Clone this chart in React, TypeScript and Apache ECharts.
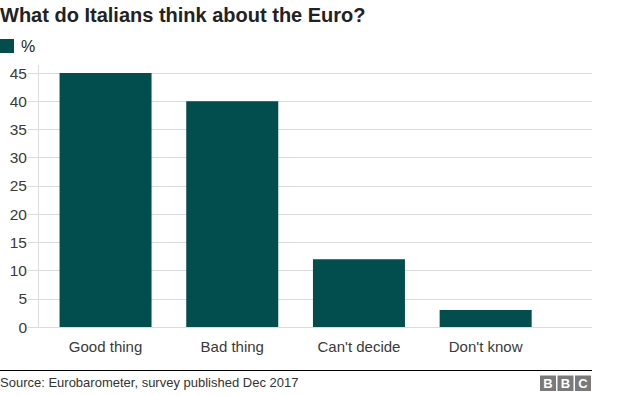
import React, { useEffect, useRef } from "react";
import * as echarts from "echarts";

const categories = ["Good thing", "Bad thing", "Can't decide", "Don't know"];
const values = [45, 40, 12, 3];
const yTicks = [0, 5, 10, 15, 20, 25, 30, 35, 40, 45];
const titleText = "What do Italians think about the Euro?";
const legendText = "%";
const sourceText = "Source: Eurobarometer, survey published Dec 2017";

const FONT = "Arial, 'Liberation Sans', Helvetica, sans-serif";
const BAR = "#024d4e";

export default function App() {
  const ref = useRef<HTMLDivElement>(null);
  useEffect(() => {
    if (!ref.current) return;
    const chart = echarts.init(ref.current, null, { renderer: "svg" });
    const yMax = yTicks[yTicks.length - 1];
    const yInt = yTicks[1] - yTicks[0];
    chart.setOption({
      animation: false,
      textStyle: { fontFamily: FONT },
      grid: [
        { left: 42.2, right: 75, top: 73, bottom: 68 },
        { left: 28, right: 32, top: 73, bottom: 68 },
      ],
      xAxis: [
        {
          type: "category",
          gridIndex: 0,
          data: categories,
          axisLine: { show: false },
          axisTick: { show: false },
          axisLabel: { color: "#3a3a3a", fontSize: 15, margin: 12, fontFamily: FONT },
        },
        {
          type: "category",
          gridIndex: 1,
          data: [""],
          show: false,
        },
      ],
      yAxis: [
        { type: "value", gridIndex: 0, min: 0, max: yMax, interval: yInt, show: false },
        {
          type: "value",
          gridIndex: 1,
          min: 0,
          max: yMax,
          interval: yInt,
          axisLine: { show: false },
          axisTick: { show: false },
          splitLine: { lineStyle: { color: "#dcdcdc", width: 1 } },
          axisLabel: { color: "#3a3a3a", fontSize: 15.5, margin: 1, fontFamily: FONT },
        },
      ],
      series: [
        {
          type: "bar",
          xAxisIndex: 0,
          yAxisIndex: 0,
          data: values,
          barWidth: 92,
          itemStyle: { color: BAR },
        },
      ],
      graphic: [
        {
          type: "text",
          left: 0,
          top: 5,
          style: { text: titleText, font: `bold 20px ${FONT}`, fill: "#222222" },
        },
        { type: "rect", shape: { x: 0, y: 39, width: 14, height: 14 }, style: { fill: BAR } },
        {
          type: "text",
          left: 21,
          top: 38,
          style: { text: legendText, font: `16px ${FONT}`, fill: "#222222" },
        },
        {
          type: "line",
          shape: { x1: 38.5, y1: 65, x2: 38.5, y2: 327 },
          style: { stroke: "#dcdcdc", lineWidth: 1 },
        },
        {
          type: "line",
          shape: { x1: 28, y1: 327.5, x2: 592, y2: 327.5 },
          style: { stroke: "#a0a0a0", lineWidth: 1 },
        },
        {
          type: "line",
          shape: { x1: 0, y1: 370.5, x2: 592, y2: 370.5 },
          style: { stroke: "#000000", lineWidth: 1 },
        },
        {
          type: "text",
          left: 0,
          top: 376,
          style: { text: sourceText, font: `13px ${FONT}`, fill: "#333333" },
        },
        ...["B", "B", "C"].flatMap((ch, i) => [
          {
            type: "rect",
            shape: { x: 540 + i * 17.5, y: 375.5, width: 16, height: 15.5 },
            style: { fill: "#7a7a7a" },
          },
          {
            type: "text",
            x: 548 + i * 17.5,
            y: 383.5,
            style: {
              text: ch,
              font: `bold 13px ${FONT}`,
              fill: "#ffffff",
              align: "center",
              verticalAlign: "middle",
            },
          },
        ]),
      ],
    });
    return () => chart.dispose();
  }, []);
  return (
    <div
      ref={ref}
      style={{ position: "fixed", left: 0, top: 0, width: 624, height: 395, background: "#fff" }}
    />
  );
}
